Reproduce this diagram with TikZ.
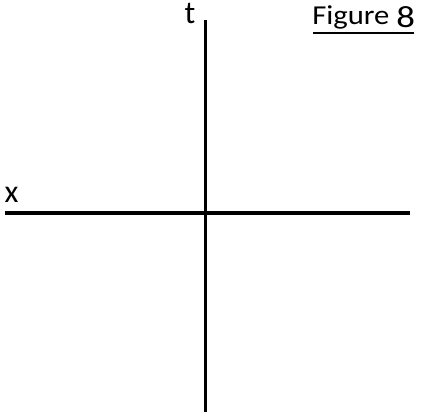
\documentclass[tikz,border=0pt]{standalone}
\usepackage{fontspec}
\setmainfont{Carlito}
\usepackage{graphicx}
\usepackage{tikz}

\tikzset{
  axisline/.style={black,line width=2.3pt},
  axislabel/.style={inner sep=0pt,anchor=base,font=\fontsize{24}{24}\selectfont}
}

\begin{document}
\begin{tikzpicture}[x=0.75pt,y=-0.75pt]
  \useasboundingbox (0,0) rectangle (421,415);
  % axes
  \coordinate (tbot) at (205.5,412);
  \coordinate (ttop) at (205.5,20);
  \coordinate (xleft) at (5,213);
  \coordinate (xright) at (410,213);
  \draw[axisline] (tbot) -- (ttop);
  \draw[axisline] (xleft) -- (xright);
  % labels
  \node[axislabel] (tlab) at (190,23) {t};
  \node[axislabel] (xlab) at (11.5,202) {x};
  \node[inner sep=0pt,anchor=base west,font=\fontsize{20.5}{21}\selectfont] (fig) at (312,24) {\scalebox{1.12}[1]{Figure}};
  \node[inner sep=0pt,anchor=base west,font=\fontsize{23}{23}\selectfont] (fignum) at (396,27) {\scalebox{1.2}[1]{8}};
  \draw[black,line width=1.5pt] (313,33) -- (414,33);
\end{tikzpicture}
\end{document}
